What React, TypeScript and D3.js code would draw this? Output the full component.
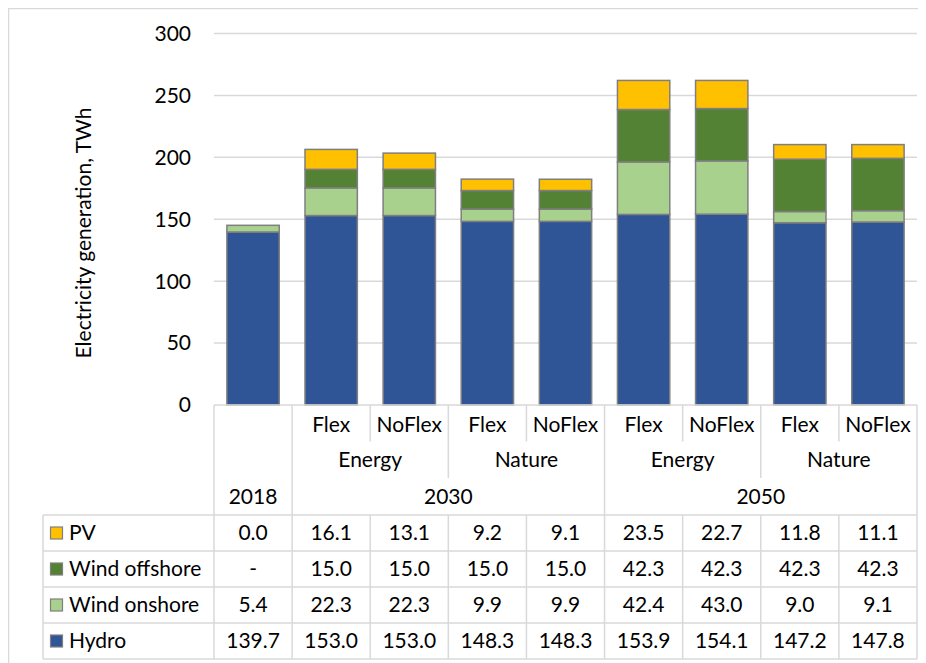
import React from "react";
import * as d3 from "d3";

const tier1 = ["", "Flex", "NoFlex", "Flex", "NoFlex", "Flex", "NoFlex", "Flex", "NoFlex"];
const tier2 = [
  { label: "Energy", from: 1, to: 2 },
  { label: "Nature", from: 3, to: 4 },
  { label: "Energy", from: 5, to: 6 },
  { label: "Nature", from: 7, to: 8 },
];
const tier3 = [
  { label: "2018", from: 0, to: 0 },
  { label: "2030", from: 1, to: 4 },
  { label: "2050", from: 5, to: 8 },
];

const seriesNames = ["PV", "Wind offshore", "Wind onshore", "Hydro"];
const seriesColors = ["#FFC000", "#548235", "#A9D18E", "#2F5597"];

const pv = [0.0, 16.1, 13.1, 9.2, 9.1, 23.5, 22.7, 11.8, 11.1];
const windOffshore = [0, 15.0, 15.0, 15.0, 15.0, 42.3, 42.3, 42.3, 42.3];
const windOnshore = [5.4, 22.3, 22.3, 9.9, 9.9, 42.4, 43.0, 9.0, 9.1];
const hydro = [139.7, 153.0, 153.0, 148.3, 148.3, 153.9, 154.1, 147.2, 147.8];

const tableText = [
  ["0.0", "16.1", "13.1", "9.2", "9.1", "23.5", "22.7", "11.8", "11.1"],
  ["-", "15.0", "15.0", "15.0", "15.0", "42.3", "42.3", "42.3", "42.3"],
  ["5.4", "22.3", "22.3", "9.9", "9.9", "42.4", "43.0", "9.0", "9.1"],
  ["139.7", "153.0", "153.0", "148.3", "148.3", "153.9", "154.1", "147.2", "147.8"],
];

const yTicks = [0, 50, 100, 150, 200, 250, 300];

export default function App() {
  const W = 926, H = 663;
  const font = "Lato, 'Open Sans', sans-serif";
  const fs = 21;
  const plotL = 214, plotR = 917;
  const y0 = 405, yTop = 33.5;
  const idx = d3.range(9);
  const x = d3.scaleBand<number>().domain(idx).range([plotL, plotR]).padding(0);
  const y = d3.scaleLinear().domain([0, 300]).range([y0, yTop]);
  const barW = x.bandwidth() * 0.67;

  const rows = idx.map((i) => ({ i, Hydro: hydro[i], "Wind onshore": windOnshore[i], "Wind offshore": windOffshore[i], PV: pv[i] }));
  const keys = ["Hydro", "Wind onshore", "Wind offshore", "PV"];
  const stack = d3.stack<any>().keys(keys)(rows);
  const colorOf: Record<string, string> = {};
  seriesNames.forEach((n, k) => (colorOf[n] = seriesColors[k]));

  const tierY = [405, 441.5, 478, 515];
  const rowY = [515, 551, 587, 623, 659];
  const gridC = "#D9D9D9";
  const edge = (i: number) => x(i)!;
  const lines: any[] = [];
  let k = 0;
  const L = (x1: number, y1: number, x2: number, y2: number) =>
    lines.push(<line key={"l" + k++} x1={x1} y1={y1} x2={x2} y2={y2} stroke={gridC} strokeWidth={1.5} />);

  for (let b = 0; b <= 9; b++) {
    const xx = b === 9 ? plotR : edge(b);
    let bottom = tierY[1];
    if (b === 0 || b === 1 || b === 5 || b === 9) bottom = tierY[3];
    else if (b === 3 || b === 7) bottom = tierY[2];
    L(xx, tierY[0], xx, bottom);
    L(xx, rowY[0], xx, rowY[4]);
  }
  L(43, rowY[0], 43, rowY[4]);
  L(plotL, tierY[0], plotR, tierY[0]);
  rowY.forEach((yy) => L(43, yy, plotR, yy));

  const cx = (i: number) => x(i)! + x.bandwidth() / 2;
  const midRange = (a: number, b: number) => (cx(a) + cx(b)) / 2;

  return (
    <svg width={W - 8} height={H - 8} style={{ display: "block" }} fontFamily={font}>
      <g transform="translate(-8,-8)">
        <rect x={8.5} y={8.5} width={W + 20} height={H + 20} fill="white" stroke={gridC} strokeWidth={1.5} />
        {yTicks.map((t) => (
          <g key={t}>
            {t > 0 && <line x1={plotL} x2={plotR} y1={y(t)} y2={y(t)} stroke={gridC} strokeWidth={1.5} />}
            <text x={191} y={y(t)} dy="0.35em" textAnchor="end" fontSize={fs} fill="#000">{t}</text>
          </g>
        ))}
        <text transform={`translate(84,233) rotate(-90)`} textAnchor="middle" dy="0.35em" fontSize={fs} fill="#000">
          Electricity generation, TWh
        </text>
        {stack.map((s) => (
          <g key={s.key} fill={colorOf[s.key]}>
            {s.map((d, i) => {
              const h = y(d[0]) - y(d[1]);
              if (h <= 0) return null;
              return (
                <rect key={i} x={cx(i) - barW / 2} y={y(d[1])} width={barW} height={h} stroke="#7F7F7F" strokeWidth={1.5} />
              );
            })}
          </g>
        ))}
        {lines}
        {tier1.map((t, i) => (
          <text key={"t1" + i} x={cx(i)} y={(tierY[0] + tierY[1]) / 2 + 1} dy="0.35em" textAnchor="middle" fontSize={fs}>{t}</text>
        ))}
        {tier2.map((t, i) => (
          <text key={"t2" + i} x={midRange(t.from, t.to)} y={(tierY[1] + tierY[2]) / 2} dy="0.35em" textAnchor="middle" fontSize={fs}>{t.label}</text>
        ))}
        {tier3.map((t, i) => (
          <text key={"t3" + i} x={midRange(t.from, t.to)} y={(tierY[2] + tierY[3]) / 2} dy="0.35em" textAnchor="middle" fontSize={fs}>{t.label}</text>
        ))}
        {seriesNames.map((n, r) => {
          const ym = (rowY[r] + rowY[r + 1]) / 2;
          return (
            <g key={n}>
              <rect x={50.5} y={ym - 6} width={12} height={12} fill={seriesColors[r]} stroke="#7F7F7F" strokeWidth={1.2} />
              <text x={69} y={ym} dy="0.35em" fontSize={fs}>{n}</text>
              {tableText[r].map((v, i) => (
                <text key={i} x={cx(i)} y={ym} dy="0.35em" textAnchor="middle" fontSize={fs}>{v}</text>
              ))}
            </g>
          );
        })}
      </g>
    </svg>
  );
}
